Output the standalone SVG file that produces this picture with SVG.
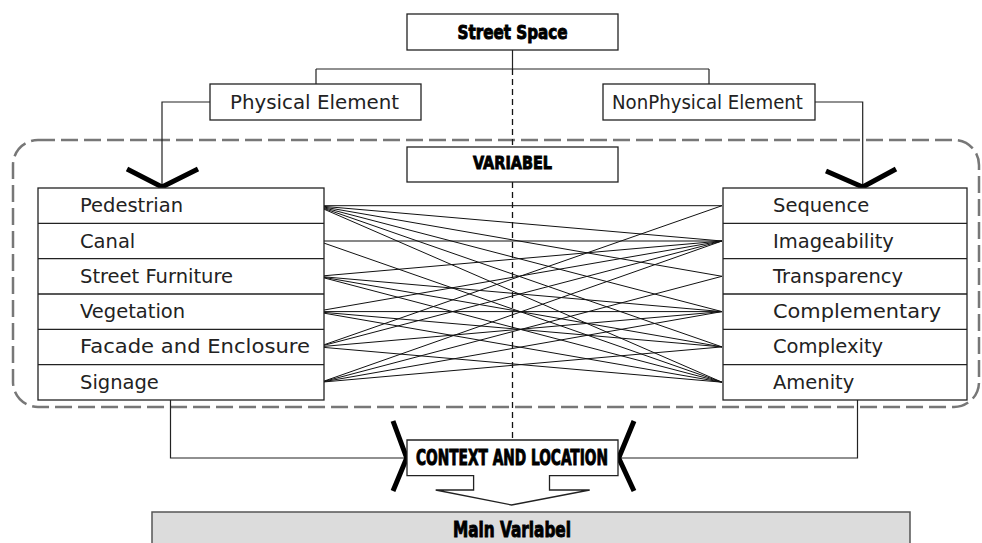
<svg xmlns="http://www.w3.org/2000/svg" width="982" height="543" viewBox="0 0 982 543">
<style>
.box{fill:#fff;stroke:#222;stroke-width:1.3}
.row{stroke:#222;stroke-width:1.3}
.lbl{font-family:"DejaVu Sans","Liberation Sans",sans-serif;font-size:19.5px;fill:#222}
.hd{font-family:"DejaVu Sans Condensed","Liberation Sans Narrow","DejaVu Sans",sans-serif;font-weight:bold;fill:#000;stroke:#000;stroke-width:0.9;text-anchor:middle}
.ln{fill:none;stroke:#222;stroke-width:1.2}
.dash{fill:none;stroke:#111;stroke-width:1.3;stroke-dasharray:6 4}
.v{fill:none;stroke:#000;stroke-width:5}
.x{stroke:#111;stroke-width:1}
</style>
<rect x="0" y="0" width="982" height="543" fill="#fff"/>
<rect x="13" y="140" width="966" height="267" rx="25" fill="none" stroke="#777" stroke-width="2.5" stroke-dasharray="17 6"/>
<g id="connectors">
<path class="ln" d="M512.5,50V69M316,69H709M316,69V84M709,69V84"/>
<path class="dash" d="M512.5,69V147M512.5,182V440"/>
<path class="ln" d="M210,102H162V186"/>
<polyline class="v" points="127,169 162,187 198,169"/>
<path class="ln" d="M815,102H862.7V186"/>
<polyline class="v" points="826,171 862.7,187 896,169"/>
<path class="ln" d="M170.5,400V458H406"/>
<path class="ln" d="M857.5,400V458H619"/>
<polyline class="v" points="393,421 406.7,458 393,491" stroke-width="4.5"/>
<polyline class="v" points="634,421 618.7,458 634,491" stroke-width="4.5"/>
<g id="cross">
<line class="x" x1="316" y1="205.7" x2="722" y2="205.7"/>
<line class="x" x1="316" y1="205.7" x2="722" y2="241"/>
<line class="x" x1="316" y1="205.7" x2="722" y2="276.3"/>
<line class="x" x1="316" y1="205.7" x2="722" y2="311.6"/>
<line class="x" x1="316" y1="205.7" x2="722" y2="346.9"/>
<line class="x" x1="316" y1="205.7" x2="722" y2="382.2"/>
<line class="x" x1="318" y1="241" x2="722" y2="241"/>
<line class="x" x1="318" y1="241" x2="722" y2="382.2"/>
<line class="x" x1="318" y1="276.3" x2="722" y2="241"/>
<line class="x" x1="318" y1="276.3" x2="722" y2="311.6"/>
<line class="x" x1="318" y1="276.3" x2="722" y2="346.9"/>
<line class="x" x1="318" y1="276.3" x2="722" y2="382.2"/>
<line class="x" x1="315" y1="311.6" x2="722" y2="241"/>
<line class="x" x1="315" y1="311.6" x2="722" y2="311.6"/>
<line class="x" x1="315" y1="311.6" x2="722" y2="346.9"/>
<line class="x" x1="315" y1="311.6" x2="722" y2="382.2"/>
<line class="x" x1="318" y1="346.9" x2="722" y2="205.7"/>
<line class="x" x1="318" y1="346.9" x2="722" y2="241"/>
<line class="x" x1="318" y1="346.9" x2="722" y2="311.6"/>
<line class="x" x1="318" y1="346.9" x2="722" y2="382.2"/>
<line class="x" x1="321" y1="382.2" x2="722" y2="241"/>
<line class="x" x1="321" y1="382.2" x2="722" y2="276.3"/>
<line class="x" x1="321" y1="382.2" x2="722" y2="311.6"/>
<line class="x" x1="321" y1="382.2" x2="722" y2="346.9"/>
</g>
</g>
<g id="street-space">
<rect class="box" x="407" y="14" width="211" height="36"/>
<text class="hd" x="512.5" y="38.5" font-size="20" textLength="110" lengthAdjust="spacingAndGlyphs">Street Space</text>
</g>
<g id="physical-element">
<rect class="box" x="210" y="84" width="211" height="36"/>
<text class="lbl" x="230" y="108.5" textLength="169" lengthAdjust="spacingAndGlyphs">Physical Element</text>
</g>
<g id="nonphysical-element">
<rect class="box" x="603" y="84" width="212" height="36"/>
<text class="lbl" x="612" y="108.5" textLength="191" lengthAdjust="spacingAndGlyphs">NonPhysical Element</text>
</g>
<g id="variabel">
<rect class="box" x="407" y="147" width="211" height="35"/>
<text class="hd" x="512.5" y="169" font-size="18.5" textLength="79" lengthAdjust="spacingAndGlyphs">VARIABEL</text>
</g>
<g id="physical-list">
<rect class="box" x="38" y="188" width="286" height="212"/>
<path class="row" d="M38,223.3H324M38,258.7H324M38,294H324M38,329.3H324M38,364.7H324"/>
<text class="lbl" x="80" y="212.2">Pedestrian</text>
<text class="lbl" x="80" y="247.5">Canal</text>
<text class="lbl" x="80" y="282.8">Street Furniture</text>
<text class="lbl" x="80" y="318.1">Vegetation</text>
<text class="lbl" x="80" y="353.4" textLength="230" lengthAdjust="spacingAndGlyphs">Facade and Enclosure</text>
<text class="lbl" x="80" y="388.7">Signage</text>
</g>
<g id="nonphysical-list">
<rect class="box" x="723" y="188" width="244" height="212"/>
<path class="row" d="M723,223.3H967M723,258.7H967M723,294H967M723,329.3H967M723,364.7H967"/>
<text class="lbl" x="773" y="212.2">Sequence</text>
<text class="lbl" x="773" y="247.5">Imageability</text>
<text class="lbl" x="773" y="282.8">Transparency</text>
<text class="lbl" x="773" y="318.1" textLength="168" lengthAdjust="spacingAndGlyphs">Complementary</text>
<text class="lbl" x="773" y="353.4">Complexity</text>
<text class="lbl" x="773" y="388.7">Amenity</text>
</g>
<g id="context-location">
<path class="box" d="M407,440H618V475.7H549.5V490H589.7L511.6,505L435.7,490H473.6V475.7H407Z"/>
<text class="hd" x="512" y="465" font-size="21" textLength="192" lengthAdjust="spacingAndGlyphs">CONTEXT AND LOCATION</text>
</g>
<g id="main-variabel">
<rect x="152" y="512" width="758" height="40" fill="#dcdcdc" stroke="#555" stroke-width="1.5"/>
<text class="hd" x="512" y="537" font-size="22" textLength="118" lengthAdjust="spacingAndGlyphs">Main Variabel</text>
</g>
</svg>
